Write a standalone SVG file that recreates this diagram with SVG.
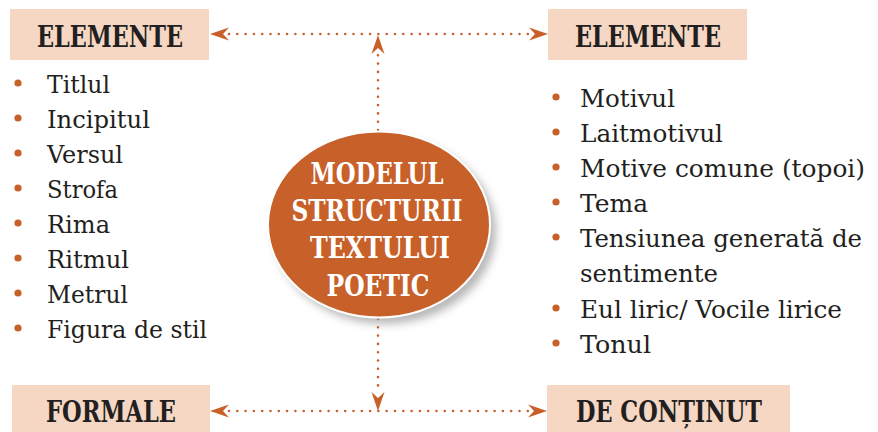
<svg xmlns="http://www.w3.org/2000/svg" width="878" height="432" viewBox="0 0 878 432">
<defs>
<style>
.box{fill:#F5D7C4;}
.hd{font-family:"DejaVu Serif","Liberation Serif",serif;font-weight:bold;font-size:29px;fill:#231F20;}
.it{font-family:"DejaVu Serif","Liberation Serif",serif;font-size:25px;fill:#231F20;}
.ct{font-family:"DejaVu Serif","Liberation Serif",serif;font-weight:bold;font-size:29px;fill:#FFFFFF;text-anchor:middle;}
.bul{fill:#C8602A;}
.con{fill:none;stroke:#C8602A;stroke-width:2.6;stroke-linecap:round;stroke-dasharray:0 8.3;}
</style>
<marker id="ah" viewBox="-19 -7 19 14" refX="0" refY="0" markerWidth="19" markerHeight="14" markerUnits="userSpaceOnUse" orient="auto-start-reverse">
<path d="M0,0 L-19,-6.5 L-13,0 L-19,6.5 Z" fill="#C8602A"/>
</marker>
<filter id="sh" x="-20%" y="-20%" width="140%" height="140%">
<feGaussianBlur stdDeviation="4"/>
</filter>
</defs>

<g id="connectors">
<path class="con" d="M229,34 L529,34"/>
<path d="M229,34 L210,34" fill="none" stroke="none" marker-end="url(#ah)"/>
<path d="M529,34 L548,34" fill="none" stroke="none" marker-end="url(#ah)"/>
<path class="con" d="M378,130 L378,54"/>
<path d="M378,54 L378,35" fill="none" stroke="none" marker-end="url(#ah)"/>
<path class="con" d="M378,319 L378,392"/>
<path d="M378,392 L378,411" fill="none" stroke="none" marker-end="url(#ah)"/>
<path class="con" d="M229,411 L528,411"/>
<path d="M229,411 L210,411" fill="none" stroke="none" marker-end="url(#ah)"/>
<path d="M528,411 L547,411" fill="none" stroke="none" marker-end="url(#ah)"/>
</g>

<g id="node-center">
<ellipse cx="385" cy="231" rx="111" ry="93" fill="#9a9a9a" opacity="0.7" filter="url(#sh)"/>
<ellipse cx="379" cy="224.5" rx="111" ry="93" fill="#C8602A" stroke="#FFFFFF" stroke-width="2"/>
<text class="ct" x="377" y="184" textLength="133" lengthAdjust="spacingAndGlyphs">MODELUL</text>
<text class="ct" x="377" y="221" textLength="171" lengthAdjust="spacingAndGlyphs">STRUCTURII</text>
<text class="ct" x="380" y="258" textLength="140" lengthAdjust="spacingAndGlyphs">TEXTULUI</text>
<text class="ct" x="378" y="296" textLength="103" lengthAdjust="spacingAndGlyphs">POETIC</text>
</g>

<g id="node-elemente-left">
<rect class="box" x="10" y="9" width="199" height="51"/>
<text class="hd" x="37" y="47" textLength="146" lengthAdjust="spacingAndGlyphs">ELEMENTE</text>
</g>

<g id="node-elemente-right">
<rect class="box" x="548" y="9" width="199" height="51"/>
<text class="hd" x="575" y="47" textLength="146" lengthAdjust="spacingAndGlyphs">ELEMENTE</text>
</g>

<g id="node-formale">
<rect class="box" x="12" y="385" width="198" height="47"/>
<text class="hd" x="46" y="422" textLength="130" lengthAdjust="spacingAndGlyphs">FORMALE</text>
</g>

<g id="node-de-continut">
<rect class="box" x="547" y="385" width="243" height="47"/>
<text class="hd" x="576" y="422" textLength="186" lengthAdjust="spacingAndGlyphs">DE CONȚINUT</text>
</g>

<g id="list-formale">
<circle class="bul" cx="18" cy="83" r="3.6"/>
<circle class="bul" cx="18" cy="118" r="3.6"/>
<circle class="bul" cx="18" cy="153" r="3.6"/>
<circle class="bul" cx="18" cy="188" r="3.6"/>
<circle class="bul" cx="18" cy="223" r="3.6"/>
<circle class="bul" cx="18" cy="258" r="3.6"/>
<circle class="bul" cx="18" cy="293" r="3.6"/>
<circle class="bul" cx="18" cy="328" r="3.6"/>
<text class="it" x="47" y="93" textLength="63" lengthAdjust="spacingAndGlyphs">Titlul</text>
<text class="it" x="47" y="128" textLength="103" lengthAdjust="spacingAndGlyphs">Incipitul</text>
<text class="it" x="47" y="163" textLength="76" lengthAdjust="spacingAndGlyphs">Versul</text>
<text class="it" x="47" y="198" textLength="71" lengthAdjust="spacingAndGlyphs">Strofa</text>
<text class="it" x="47" y="233" textLength="63" lengthAdjust="spacingAndGlyphs">Rima</text>
<text class="it" x="47" y="268" textLength="82" lengthAdjust="spacingAndGlyphs">Ritmul</text>
<text class="it" x="47" y="303" textLength="81" lengthAdjust="spacingAndGlyphs">Metrul</text>
<text class="it" x="47" y="338" textLength="160" lengthAdjust="spacingAndGlyphs">Figura de stil</text>
</g>

<g id="list-continut">
<circle class="bul" cx="556" cy="97" r="3.6"/>
<circle class="bul" cx="556" cy="132" r="3.6"/>
<circle class="bul" cx="556" cy="167" r="3.6"/>
<circle class="bul" cx="556" cy="202" r="3.6"/>
<circle class="bul" cx="556" cy="237" r="3.6"/>
<circle class="bul" cx="556" cy="308" r="3.6"/>
<circle class="bul" cx="556" cy="343" r="3.6"/>
<text class="it" x="580" y="107" textLength="95" lengthAdjust="spacingAndGlyphs">Motivul</text>
<text class="it" x="580" y="142" textLength="143" lengthAdjust="spacingAndGlyphs">Laitmotivul</text>
<text class="it" x="580" y="177" textLength="285" lengthAdjust="spacingAndGlyphs">Motive comune (topoi)</text>
<text class="it" x="580" y="212" textLength="68" lengthAdjust="spacingAndGlyphs">Tema</text>
<text class="it" x="580" y="247" textLength="282" lengthAdjust="spacingAndGlyphs">Tensiunea generată de</text>
<text class="it" x="580" y="282" textLength="138" lengthAdjust="spacingAndGlyphs">sentimente</text>
<text class="it" x="580" y="318" textLength="262" lengthAdjust="spacingAndGlyphs">Eul liric/ Vocile lirice</text>
<text class="it" x="580" y="353" textLength="71" lengthAdjust="spacingAndGlyphs">Tonul</text>
</g>
</svg>
